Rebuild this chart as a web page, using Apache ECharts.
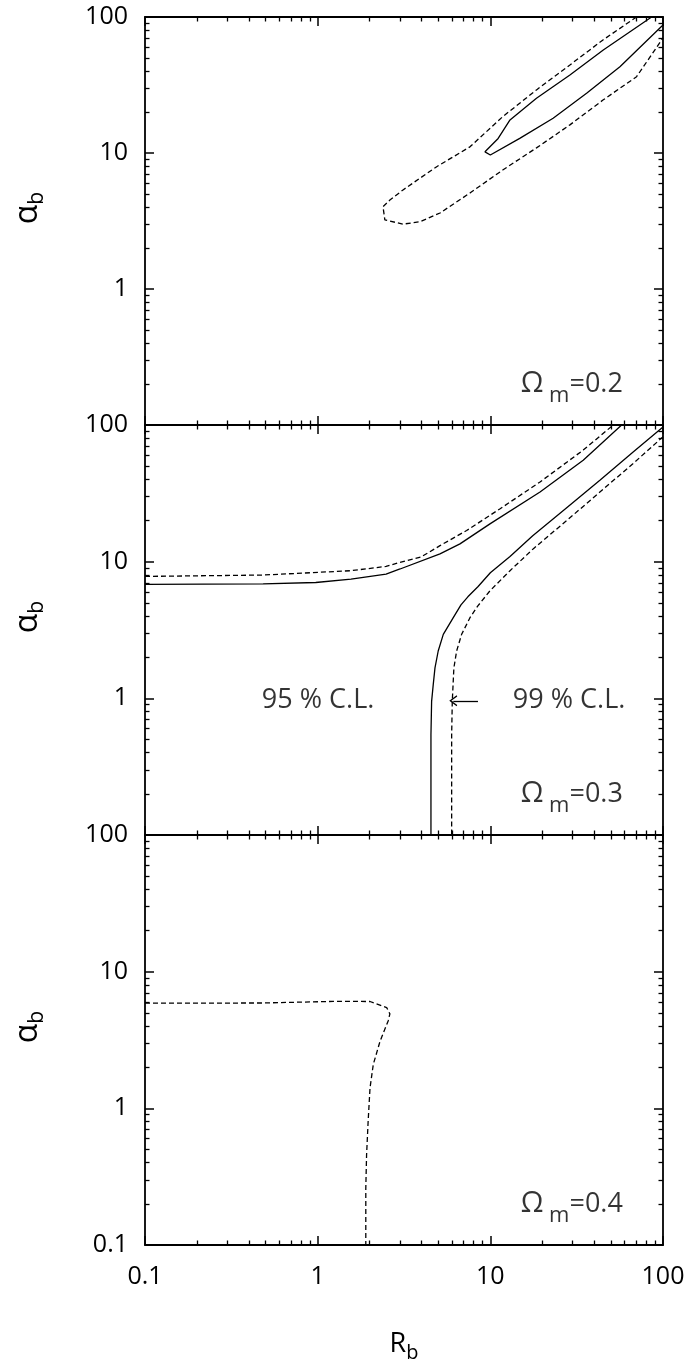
<!DOCTYPE html>
<html><head><meta charset="utf-8">
<script src="https://cdn.jsdelivr.net/npm/echarts@6/dist/echarts.min.js"></script>
<style>html,body{margin:0;padding:0;background:#fff}#c{width:688px;height:1371px}</style>
</head><body><div id="c"></div>
<script>
// ---- data (R_b, alpha_b) ----
const xTickValues = [0.1, 1, 10, 100];
const yTickValues = [0.1, 1, 10, 100];
const minorMultipliers = [2, 3, 4, 5, 6, 7, 8, 9];
const omegaValues = ['0.2', '0.3', '0.4'];

// Panel 1: Omega_m = 0.2
const p1cl95 = [[85.9,100],[45.1,57.2],[28.9,37.5],[18.5,25.3],[13.0,17.5],[11.1,12.8],[9.31,10.2],[10.0,9.67],[14.8,12.8],[23.1,18.0],[36.1,27.5],[56.3,43.1],[100,87.4]];
const p1cl99 = [[70.3,100],[44.9,67.8],[28.9,44.4],[18.5,29.1],[11.8,18.5],[7.62,11.1],[4.89,7.93],[3.12,5.35],[2.62,4.51],[2.39,4.03],[2.45,3.22],[3.12,3.0],[3.91,3.12],[5.11,3.62],[7.62,5.08],[11.8,7.5],[18.5,10.9],[28.9,16.1],[44.9,24.5],[70.3,36.4],[100,70.1]];

// Panel 2: Omega_m = 0.3
const p2cl95a = [[0.1,6.81],[0.483,6.89],[0.975,7.04],[1.56,7.46],[2.49,8.12],[3.0,8.84],[5.11,11.4],[6.67,13.5],[9.95,18.9],[19.4,32.3],[34.5,55.3],[57.6,100]];
const p2cl95b = [[100,96.7],[66.9,63.3],[43.1,39.4],[27.8,24.9],[17.6,15.5],[13.0,10.9],[10.0,8.30],[8.47,6.55],[7.41,5.53],[6.76,4.83],[6.10,3.89],[5.34,2.94],[4.99,2.22],[4.78,1.67],[4.67,1.26],[4.57,0.95],[4.53,0.54],[4.53,0.1]];
const p2cl99a = [[0.1,7.80],[0.483,7.98],[1.56,8.59],[2.49,9.23],[3.0,9.88],[3.96,10.8],[5.11,13.1],[7.29,16.9],[11.4,24.4],[19.4,38.3],[34.5,65.5],[51.5,100]];
const p2cl99b = [[100,82.0],[67.2,52.3],[43.1,32.3],[27.7,20.0],[17.7,12.4],[13.0,8.59],[9.95,6.12],[8.47,4.75],[7.62,3.89],[6.82,2.94],[6.38,2.22],[6.15,1.67],[6.02,0.95],[5.97,0.54],[5.97,0.1]];

// Panel 3: Omega_m = 0.4
const p3cl99 = [[0.1,5.88],[0.48,5.9],[1.23,6.06],[2.01,6.05],[2.51,5.46],[2.62,4.91],[2.56,4.36],[2.30,3.11],[2.10,2.10],[2.01,1.41],[1.96,0.80],[1.92,0.457],[1.90,0.26],[1.90,0.1]];

// ---- layout / style ----
const FONT = 'Open Sans';
const grids = [
  {left:145, right:25, top:17, height:408},
  {left:145, right:25, top:425, height:410},
  {left:145, right:25, top:835, height:410}
];
// minor tick positions in decades (log10), for helper linear axes spanning log10(0.1)..log10(100)
const minorTickLogs = [];
yTickValues.slice(0, -1).forEach(d => minorMultipliers.forEach(m => minorTickLogs.push(Math.log10(d * m))));

const axisLine = {show:true, onZero:false, lineStyle:{color:'#000', width:1.8}};
const majorTick = {show:true, inside:true, length:9, lineStyle:{color:'#000', width:1.5}};
const minorTickStyle = {show:true, inside:true, length:4.5, customValues:minorTickLogs, lineStyle:{color:'#000', width:1.3}};

const xAxes = [], yAxes = [];
grids.forEach((g, i) => {
  const last = i === grids.length - 1;
  ['bottom','top'].forEach((pos, k) => {
    xAxes.push({
      type:'log', logBase:10, gridIndex:i, position:pos, min:0.1, max:100,
      axisLine, axisTick:majorTick, splitLine:{show:false},
      axisLabel:{show: last && k===0, margin:19, color:'#000', fontFamily:FONT, fontSize:25,
        formatter: v => String(v)},
      name: (last && k===0) ? '{r|R}{s|b}' : '',
      nameLocation:'middle', nameGap:80,
      nameTextStyle:{rich:{r:{fontFamily:FONT, fontSize:27, color:'#000'},
        s:{fontFamily:FONT, fontSize:20, color:'#000', verticalAlign:'bottom', padding:[18,0,0,0]}}}
    });
  });
  ['left','right'].forEach((pos, k) => {
    yAxes.push({
      type:'log', logBase:10, gridIndex:i, position:pos, min:0.1, max:100,
      axisLine, axisTick:majorTick, splitLine:{show:false},
      axisLabel:{show:k===0, margin:17, color:'#000', fontFamily:FONT, fontSize:25,
        formatter: v => (v < 0.5 && !last) ? '' : String(v)},
      name: k===0 ? '{a|α}{s|b}' : '',
      nameLocation:'middle', nameGap:97,
      nameTextStyle:{padding:[0,0,0,26], rich:{a:{fontFamily:FONT, fontSize:32, color:'#000'},
        s:{fontFamily:FONT, fontSize:21, color:'#000', verticalAlign:'bottom', padding:[20,0,0,0]}}}
    });
  });
});
// helper axes carrying only the minor ticks (2..9 within each decade)
const helperLine = {show:false, onZero:false};
grids.forEach((g, i) => {
  ['bottom','top'].forEach(pos => xAxes.push({
    type:'value', gridIndex:i, position:pos, min:-1, max:2,
    axisLine:helperLine, axisLabel:{show:false}, splitLine:{show:false}, axisTick:minorTickStyle
  }));
  ['left','right'].forEach(pos => yAxes.push({
    type:'value', gridIndex:i, position:pos, min:-1, max:2,
    axisLine:helperLine, axisLabel:{show:false}, splitLine:{show:false}, axisTick:minorTickStyle
  }));
});

function curve(data, i, dashed, extra) {
  return Object.assign({
    type:'line', data, xAxisIndex:2*i, yAxisIndex:2*i, showSymbol:false, symbol:'none',
    smooth:false, silent:true, z:3,
    lineStyle:{color:'#000', width:1.3, type: dashed ? [5,3] : 'solid'}
  }, extra || {});
}

const richOmega = {
  o:{fontFamily:FONT, fontSize:29, color:'#000'},
  s:{fontFamily:FONT, fontSize:22, color:'#000', verticalAlign:'bottom', padding:[24,0,0,0]},
  t:{fontFamily:FONT, fontSize:27, color:'#000'}
};
function textMark(i, x, y, text, rich, fontSize) {
  return {
    type:'scatter', xAxisIndex:2*i, yAxisIndex:2*i, data:[[x,y]], symbolSize:0, silent:true,
    label:{show:true, position:'right', distance:0, formatter:text, color:'#000',
      fontFamily:FONT, fontSize:fontSize || 27, rich: rich || {}}
  };
}

const series = [
  curve(p1cl95, 0, false),
  curve(p1cl99, 0, true),
  curve(p2cl95a, 1, false),
  curve(p2cl95b, 1, false),
  curve(p2cl99a, 1, true),
  curve(p2cl99b, 1, true, {
    markLine:{silent:true, animation:false, label:{show:false},
      lineStyle:{color:'#000', width:1.3, type:'solid'},
      data:[[{coord:[8.48,0.96], symbol:'none'},
             {coord:[6.1,0.96], symbol:'path://M6,0 L12,11 L10.6,12 L6,3.2 L1.4,12 L0,11 Z', symbolSize:[11,8]}]]}
  }),
  curve(p3cl99, 2, true)
];
omegaValues.forEach((v, i) => {
  series.push(textMark(i, 15.0, 0.2, '{o|Ω}{s| m}{t|=' + v + '}', richOmega));
});
series.push(textMark(1, 0.475, 0.96, '95 % C.L.'));
series.push(textMark(1, 13.5, 0.96, '99 % C.L.'));

const chart = echarts.init(document.getElementById('c'), null, {renderer:'canvas'});
chart.setOption({
  animation:false,
  backgroundColor:'#fff',
  grid: grids,
  xAxis: xAxes,
  yAxis: yAxes,
  series
});
</script></body></html>
